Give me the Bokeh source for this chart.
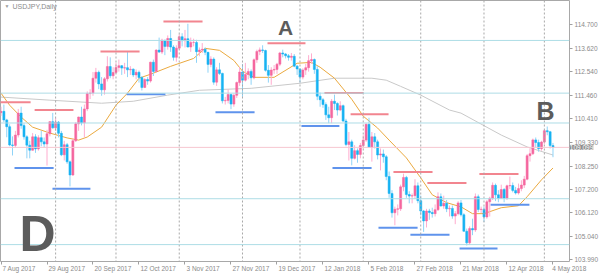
from bokeh.plotting import figure
from bokeh.models import Range1d, FixedTicker, Span, Label, ColumnDataSource, PrintfTickFormatter
from bokeh.embed import file_html
from bokeh.resources import INLINE

# ---------------- data ----------------
tick_bars = [0, 16, 32, 48, 64, 80, 96, 112, 128, 144, 160, 176, 192]
tick_labels = ["7 Aug 2017", "29 Aug 2017", "20 Sep 2017", "12 Oct 2017", "3 Nov 2017",
               "27 Nov 2017", "19 Dec 2017", "12 Jan 2018", "5 Feb 2018", "27 Feb 2018",
               "21 Mar 2018", "12 Apr 2018", "4 May 2018"]
price_ticks = [103.990, 105.040, 106.120, 107.200, 108.250, 109.330,
               110.410, 111.460, 112.540, 113.620, 114.700]
month_starts = [19, 40, 62, 84, 104, 126, 146, 168, 189]

opens = [
    110.68, 110.74, 110.35, 110.04, 109.21,
    109.19, 109.66, 110.66, 110.09, 109.58,
    109.20, 108.97, 109.58, 109.03, 109.54,
    109.35, 109.25, 109.72, 110.27, 109.99,
    110.25, 109.74, 108.76, 109.22, 108.44,
    107.84, 109.40, 110.17, 110.48, 110.22,
    110.85, 111.55, 111.58, 112.25, 112.52,
    111.99, 111.72, 112.22, 112.78, 112.36,
    112.51, 112.74, 112.82, 112.71, 112.73,
    112.63, 112.66, 112.40, 112.52, 112.28,
    111.83, 112.19, 112.12, 112.98, 112.56,
    113.53, 113.44, 113.98, 113.70, 114.06,
    113.67, 113.20, 113.62, 114.14, 113.96,
    114.05, 113.67, 113.88, 113.88, 113.46,
    113.53, 113.57, 113.43, 112.88, 113.12,
    112.07, 112.63, 112.47, 111.22, 111.24,
    111.51, 111.07, 111.47, 112.05, 112.53,
    112.16, 112.42, 112.56, 112.27, 113.09,
    113.47, 113.54, 113.51, 112.61, 112.38,
    112.62, 112.65, 112.89, 113.40, 113.35,
    113.27, 113.20, 113.25, 112.80,
    112.67, 112.30, 112.62, 112.73,
    113.05, 113.10, 112.65, 111.43, 111.27,
    111.05, 110.58, 110.45, 111.20, 111.10,
    110.80, 111.00, 110.30, 109.23, 109.35,
    108.60, 108.95, 108.78, 109.18, 109.43,
    110.15, 109.10, 109.58, 109.35, 108.75,
    108.80, 108.67, 107.77, 107.00, 106.12,
    106.28, 106.30, 107.30, 107.73, 106.95,
    106.88, 106.90, 107.35, 106.67, 106.20,
    105.75, 106.20, 106.13, 106.08, 106.26,
    106.85, 106.43, 106.55, 106.30, 106.32,
    105.97, 106.08, 106.57, 106.03, 105.28,
    104.75, 105.40, 105.34, 106.85, 106.27,
    106.28, 105.93, 106.62, 106.78, 107.37,
    106.94, 106.78, 107.18, 106.78, 107.35,
    107.36, 107.14, 107.02, 107.22, 107.38,
    107.65, 108.72, 108.81, 109.44, 109.32,
    109.04, 109.34, 109.86, 109.81, 109.18,
]
highs = [
    110.95, 111.05, 110.40, 110.15, 109.60,
    109.85, 110.85, 110.95, 110.20, 109.65,
    109.40, 109.75, 109.70, 109.65, 109.85,
    109.55, 109.90, 110.30, 110.67, 110.45,
    110.30, 109.85, 109.40, 109.30, 108.50,
    109.50, 110.25, 110.50, 110.95, 111.05,
    111.65, 111.75, 112.53, 112.72, 112.60,
    112.30, 112.30, 113.25, 113.20, 112.75,
    112.95, 113.10, 112.85, 112.95, 113.44,
    112.80, 112.70, 112.65, 112.60, 112.35,
    112.25, 112.30, 113.00, 113.10, 113.57,
    114.10, 114.05, 114.00, 114.20, 114.45,
    113.75, 113.75, 114.25, 114.30, 114.45,
    114.73, 114.10, 114.05, 114.00, 113.65,
    113.85, 113.65, 113.45, 113.25, 113.20,
    112.75, 112.95, 112.50, 111.40, 111.75,
    111.55, 111.55, 112.10, 112.75, 112.90,
    112.95, 112.70, 112.65, 113.15, 113.55,
    113.65, 113.75, 113.55, 112.85, 112.75,
    112.85, 112.95, 113.45, 113.55, 113.40,
    113.35, 113.40, 113.35, 112.85,
    112.70, 112.70, 112.90, 113.30,
    113.38, 113.15, 112.80, 111.60, 111.35,
    111.15, 110.95, 111.30, 111.50, 111.15,
    111.20, 111.05, 110.40, 109.80, 109.45,
    109.20, 109.05, 109.30, 109.65, 110.20,
    110.45, 109.80, 109.75, 109.45, 109.05,
    109.00, 108.75, 108.00, 107.15, 106.40,
    106.50, 107.40, 107.90, 107.80, 107.10,
    107.00, 107.65, 107.50, 106.90, 106.25,
    106.30, 106.30, 106.35, 106.50, 107.05,
    107.00, 106.90, 106.70, 106.45, 106.45,
    106.20, 106.65, 106.70, 106.10, 105.40,
    105.50, 105.85, 107.00, 106.95, 106.40,
    106.40, 106.70, 106.85, 107.50, 107.45,
    107.15, 107.40, 107.25, 107.40, 107.77,
    107.50, 107.30, 107.45, 107.60, 107.80,
    108.80, 109.05, 109.50, 109.55, 109.45,
    109.40, 109.90, 110.05, 109.85, 109.30,
]
lows = [
    110.53, 110.25, 109.56, 109.15, 108.73,
    109.10, 109.55, 109.95, 109.45, 108.60,
    108.60, 108.95, 108.85, 108.95, 109.15,
    109.10, 108.27, 109.60, 109.95, 109.85,
    109.55, 108.70, 108.50, 108.35, 107.32,
    107.80, 109.35, 109.85, 110.10, 109.55,
    110.75, 111.30, 111.45, 112.05, 111.75,
    111.45, 111.50, 112.10, 112.25, 112.20,
    112.45, 112.55, 112.40, 112.45, 112.30,
    112.40, 112.30, 112.20, 112.05, 111.69,
    111.80, 111.95, 112.05, 112.35, 112.50,
    113.40, 113.35, 113.30, 113.55, 113.45,
    113.05, 113.00, 113.55, 113.70, 113.65,
    113.65, 113.45, 113.70, 112.95, 113.25,
    113.40, 113.30, 112.50, 112.75, 111.95,
    111.90, 112.40, 111.10, 111.05, 111.10,
    110.84, 110.95, 111.35, 111.90, 111.40,
    112.10, 112.20, 111.95, 112.20, 112.95,
    113.30, 113.40, 112.55, 112.05, 111.95,
    112.45, 112.45, 112.80, 113.20, 113.15,
    113.05, 113.05, 112.75, 112.40,
    112.05, 112.20, 112.40, 112.55,
    112.90, 112.45, 111.25, 110.95, 110.90,
    110.35, 110.20, 110.20, 110.80, 110.55,
    110.75, 110.25, 109.15, 108.50, 108.28,
    108.55, 108.40, 108.60, 109.05, 109.35,
    109.10, 108.45, 109.05, 108.55, 108.05,
    108.40, 107.60, 106.80, 105.90, 105.55,
    106.00, 106.20, 107.10, 106.80, 106.55,
    106.55, 106.75, 106.55, 106.00, 105.25,
    105.45, 105.80, 105.90, 105.95, 106.20,
    106.40, 106.30, 106.15, 105.95, 105.85,
    105.60, 106.00, 105.95, 105.25, 104.63,
    104.65, 105.10, 105.25, 106.15, 106.10,
    105.70, 105.85, 105.95, 106.70, 106.65,
    106.60, 106.75, 106.60, 106.70, 107.20,
    107.05, 106.95, 106.95, 107.10, 107.25,
    107.60, 108.45, 108.75, 109.10, 108.90,
    108.95, 109.25, 109.65, 109.05, 108.65,
]
closes = [
    110.74, 110.35, 110.04, 109.21, 109.19,
    109.66, 110.66, 110.09, 109.58, 109.20,
    108.97, 109.58, 109.03, 109.54, 109.35,
    109.25, 109.72, 110.27, 109.99, 110.25,
    109.74, 108.76, 109.22, 108.44, 107.84,
    109.40, 110.17, 110.48, 110.22, 110.85,
    111.55, 111.58, 112.25, 112.52, 111.99,
    111.72, 112.22, 112.78, 112.36, 112.51,
    112.74, 112.82, 112.71, 112.73, 112.63,
    112.66, 112.40, 112.52, 112.28, 111.83,
    112.19, 112.12, 112.98, 112.56, 113.53,
    113.44, 113.98, 113.70, 114.06, 113.67,
    113.20, 113.62, 114.14, 113.96, 114.05,
    113.67, 113.88, 113.88, 113.46, 113.53,
    113.57, 113.43, 112.88, 113.12, 112.07,
    112.63, 112.47, 111.22, 111.24, 111.51,
    111.07, 111.47, 112.05, 112.53, 112.16,
    112.42, 112.56, 112.27, 113.09, 113.47,
    113.54, 113.51, 112.61, 112.38, 112.62,
    112.65, 112.89, 113.40, 113.35, 113.27,
    113.20, 113.25, 112.80, 112.67,
    112.30, 112.62, 112.73, 113.05,
    113.10, 112.65, 111.43, 111.27, 111.05,
    110.58, 110.45, 111.20, 111.10, 110.80,
    111.00, 110.30, 109.23, 109.35, 108.60,
    108.95, 108.78, 109.18, 109.43, 110.15,
    109.10, 109.58, 109.35, 108.75, 108.80,
    108.67, 107.77, 107.00, 106.12, 106.28,
    106.30, 107.30, 107.73, 106.95, 106.88,
    106.90, 107.35, 106.67, 106.20, 105.75,
    106.20, 106.13, 106.08, 106.26, 106.85,
    106.43, 106.55, 106.30, 106.32, 105.97,
    106.08, 106.57, 106.03, 105.28, 104.75,
    105.40, 105.34, 106.85, 106.27, 106.28,
    105.93, 106.62, 106.78, 107.37, 106.94,
    106.78, 107.18, 106.78, 107.35, 107.36,
    107.14, 107.02, 107.22, 107.38, 107.65,
    108.72, 108.81, 109.44, 109.32, 109.04,
    109.34, 109.86, 109.81, 109.18, 109.10,
]

# moving averages (bar index, price)
fast_ma_bars = [0, 3, 7, 11, 17, 23, 27, 30, 35, 40, 44, 48, 52, 59, 67, 71, 76, 81, 84, 88,
                95, 103, 108, 111, 116, 122, 126, 131, 135, 141, 146, 150, 155, 160, 164, 168,
                174, 180, 183, 188, 192]
fast_ma_vals = [111.57, 111.02, 110.48, 110.02, 109.75, 109.53, 109.43, 109.57, 110.02, 111.02,
                111.57, 112.25, 112.43, 112.79, 113.15, 113.61, 113.52, 113.06, 112.57, 112.29,
                112.29, 112.93, 112.97, 112.75, 112.25, 111.29, 110.52, 109.98, 109.43, 108.62,
                107.71, 106.94, 106.58, 106.39, 106.08, 106.08, 106.35, 106.44, 106.85, 107.62,
                108.16]
slow_ma_bars = [0, 17, 35, 46, 58, 69, 87, 104, 116, 129, 134, 139, 146, 156, 160, 174, 183, 192]
slow_ma_vals = [111.39, 111.25, 111.11, 111.20, 111.48, 111.70, 111.79, 112.02, 112.25, 112.25,
                112.16, 111.88, 111.48, 110.80, 110.66, 109.66, 109.12, 108.75]

# resistance (red) and support (blue) segments: start bar, end bar, level
res_start = [-2.0, 11.7, 34.6, 56.5, 92.7, 112.5, 121.6, 136.5, 148.3, 166.4]
res_end = [10.3, 25.2, 48.2, 70.1, 105.9, 126.1, 134.8, 150.1, 161.9, 180.0]
res_level = [111.16, 110.80, 113.47, 114.83, 113.84, 111.58, 110.61, 107.98, 107.48, 107.89]
sup_start = [4.7, 17.9, 43.7, 74.6, 104.5, 115.3, 131.3, 142.4, 159.5, 170.3]
sup_end = [18.3, 31.1, 57.2, 88.2, 117.7, 128.9, 144.9, 156.0, 172.7, 183.8]
sup_level = [108.16, 107.21, 111.52, 110.70, 110.07, 108.16, 105.44, 105.12, 104.49, 106.49]

# horizontal levels
level_lines = [113.97, 111.57, 110.21, 106.76, 104.67]
last_price = 109.099

# ---------------- figure ----------------
BAR_PX = 2.875  # horizontal pixels per bar in the frame
X_END = 197.74
p = figure(width=600, height=279, output_backend="svg", toolbar_location=None,
           x_range=Range1d(-0.174, X_END), y_range=Range1d(103.90, 115.79),
           x_axis_location="below", y_axis_location="right",
           min_border_left=0, min_border_right=31, min_border_top=0, min_border_bottom=17)
p.background_fill_color = "white"
p.border_fill_color = "white"
p.outline_line_color = "#a8a8a8"
p.grid.visible = False

label_font = "Liberation Sans"
for ax in (p.xaxis[0], p.yaxis[0]):
    ax.axis_line_color = None
    ax.major_tick_line_color = "#a0a0a0"
    ax.minor_tick_line_color = None
    ax.major_tick_in = 0
    ax.major_label_text_color = "#8a8a8a"
    ax.major_label_text_font = label_font
    ax.major_label_text_font_size = "6.5px"

# date labels sit to the right of their tick mark (left aligned): the
# labels are placed at their centres, the tick marks are drawn as minor ticks
char_w = {" ": 0.278, "A": 0.667, "S": 0.667, "O": 0.778, "N": 0.722, "D": 0.722, "J": 0.5,
          "F": 0.611, "M": 0.833, "u": 0.556, "g": 0.556, "e": 0.556, "p": 0.556, "c": 0.5,
          "t": 0.278, "o": 0.556, "v": 0.5, "a": 0.556, "n": 0.556, "b": 0.556, "r": 0.333,
          "y": 0.5}
fs_px = 6.5
centers = []
for b, t in zip(tick_bars, tick_labels):
    w = sum(char_w.get(ch, 0.556) for ch in t) * fs_px
    centers.append(round(min(b + (1.5 + w / 2) / BAR_PX, X_END - 0.05), 3))
p.xaxis[0].ticker = FixedTicker(ticks=centers, minor_ticks=tick_bars)
p.xaxis[0].major_label_overrides = {c: t for c, t in zip(centers, tick_labels)}
p.xaxis[0].major_tick_line_color = None
p.xaxis[0].minor_tick_line_color = "#a0a0a0"
p.xaxis[0].minor_tick_out = 3
p.xaxis[0].minor_tick_in = 0
p.xaxis[0].major_tick_out = 0
p.xaxis[0].major_label_standoff = 0

p.yaxis[0].ticker = FixedTicker(ticks=price_ticks)
p.yaxis[0].formatter = PrintfTickFormatter(format="%.3f")
p.yaxis[0].major_tick_out = 3
p.yaxis[0].major_label_standoff = 2

# month separators
for m in month_starts:
    p.add_layout(Span(location=m, dimension="height", line_color="#a8a8a8",
                      line_dash="2 2", line_width=1))

# horizontal level lines
for lv in level_lines:
    p.add_layout(Span(location=lv, dimension="width", line_color="#aedde6", line_width=1))
p.add_layout(Span(location=last_price, dimension="width", line_color="#f6c6d0", line_width=1))

# moving averages
p.line(slow_ma_bars, slow_ma_vals, line_color="#c9c9c9", line_width=1)
p.line(fast_ma_bars, fast_ma_vals, line_color="#eaa93f", line_width=1)

# candles
idx = list(range(len(closes)))
up = [c >= o for o, c in zip(opens, closes)]
src_up = ColumnDataSource(dict(
    x=[i for i, u in zip(idx, up) if u],
    o=[v for v, u in zip(opens, up) if u], c=[v for v, u in zip(closes, up) if u],
    h=[v for v, u in zip(highs, up) if u], l=[v for v, u in zip(lows, up) if u]))
src_dn = ColumnDataSource(dict(
    x=[i for i, u in zip(idx, up) if not u],
    o=[v for v, u in zip(opens, up) if not u], c=[v for v, u in zip(closes, up) if not u],
    h=[v for v, u in zip(highs, up) if not u], l=[v for v, u in zip(lows, up) if not u]))

p.segment(x0="x", x1="x", y0="l", y1="h", source=src_up, line_color="#ffaccf", line_width=1)
p.segment(x0="x", x1="x", y0="l", y1="h", source=src_dn, line_color="#8fd3f7", line_width=1)
p.vbar(x="x", bottom="o", top="c", width=0.72, source=src_up,
       fill_color="#f5679f", line_color="#f5679f", line_width=0.5)
p.vbar(x="x", bottom="c", top="o", width=0.72, source=src_dn,
       fill_color="#17b3f2", line_color="#17b3f2", line_width=0.5)

# support / resistance segments
p.segment(x0=res_start, x1=res_end, y0=res_level, y1=res_level, line_color="#f2858f", line_width=2)
p.segment(x0=sup_start, x1=sup_end, y0=sup_level, y1=sup_level, line_color="#5f93ec", line_width=2)

# letters
for txt, xb, yp, fs in [("A", 99.0, 114.54, "21px"), ("B", 189.4, 110.74, "25px"),
                        ("D", 12.7, 105.15, "50px")]:
    p.add_layout(Label(x=xb, y=yp, text=txt, text_align="center", text_baseline="middle",
                       text_font="Liberation Sans", text_font_style="bold",
                       text_font_size=fs, text_color="#5c5c5c"))

# title
p.add_layout(Label(x=1.2, y=115.52, text="\u25BC", text_font_size="5px", text_color="#9a9a9a",
                   text_baseline="middle", text_align="left"))
p.add_layout(Label(x=4.0, y=115.52, text="USDJPY,Daily", text_font=label_font,
                   text_font_size="7px", text_color="#8a8a8a", text_baseline="middle",
                   text_align="left"))

# last price box on the price scale (placed in the lower side panel so that it
# is not clipped to the frame; its position uses the plot's data scales)
price_box = Label(x=X_END + 0.1, y=last_price, text="%.3f" % last_price,
                  text_font=label_font, text_font_size="6.5px", text_color="white",
                  text_baseline="middle", text_align="left", padding=0,
                  background_fill_color="#8f8f8f")
p.add_layout(price_box, "below")

open("out.html", "w").write(file_html(p, INLINE))
